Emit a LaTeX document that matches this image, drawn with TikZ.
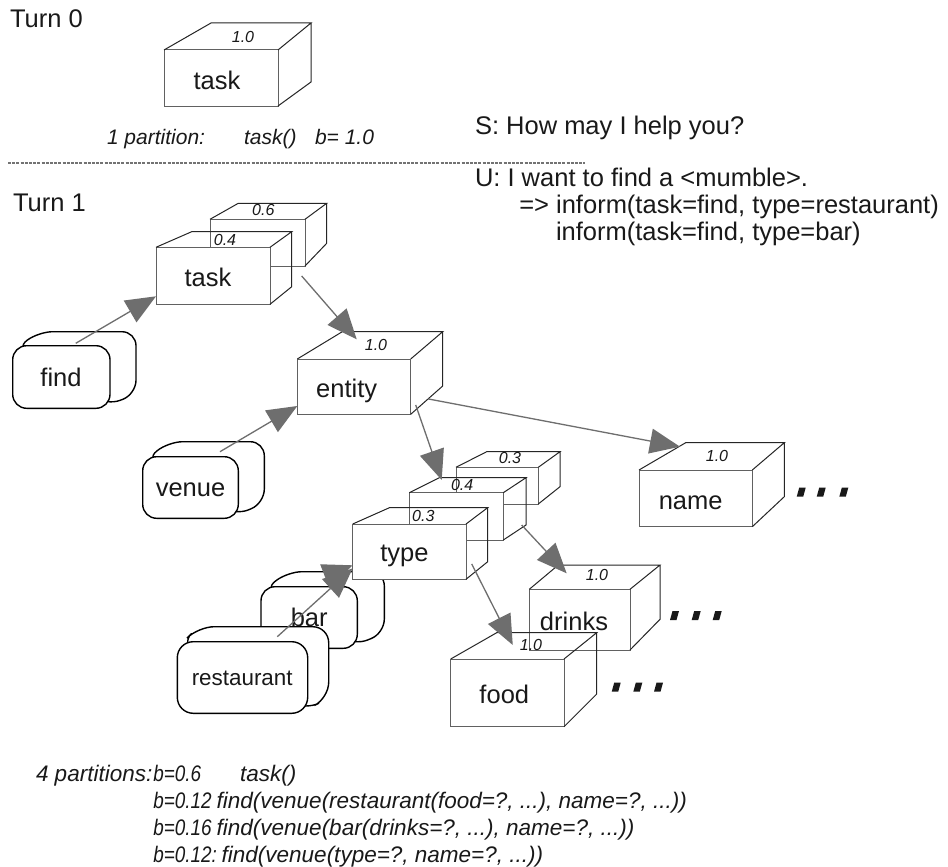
\documentclass[tikz,border=0pt]{standalone}
\usepackage{fontspec}
\setmainfont{Liberation Sans}
\usetikzlibrary{arrows.meta,calc}
\newcommand{\cubefaces}[5]{%
  \draw[topline] (#1.north west) -- ++(#2,#4) -- ($(#1.north east)+(#3,#4)$) -- (#1.north east)
     ($(#1.north east)+(#3,#4)$) -- ($(#1.south east)+(#3,#5)$) -- (#1.south east);
}
\newcommand{\roundbox}[4]{%
  \draw[rline, fill=white, rounded corners=#4] ($(#1.north west)+(3,3)$) -- ($(#1.north west)+(#2,#3)$) -- ($(#1.north east)+(#2,#3)$) -- ($(#1.south east)+(#2,#3)$) -- ($(#1.south east)+(-3,-3)$) -- cycle;
  \draw[rline, fill=white, rounded corners=#4] (#1.north west) rectangle (#1.south east);
}
\newcommand{\dotsq}[2]{\fill[black!90] (#1,#2) -- ++(6.5,0) -- ++(2.5,-9) -- ++(-6.5,0) -- cycle;}
\newcommand{\narrowb}[1]{\scalebox{0.84}[1]{#1}}
\begin{document}
\begin{tikzpicture}[x=1pt,y=-1pt,
  front/.style={draw=black!62, fill=white, line width=1pt, inner sep=0pt, outer sep=0pt, rectangle},
  topline/.style={draw=black!85, line width=1pt, line join=miter},
  rnode/.style={inner sep=0pt, outer sep=0pt, rectangle},
  rline/.style={draw=black, line width=1.4pt},
  lbl/.style={inner sep=0pt, outer sep=0pt, anchor=base, text=black!90, font=\fontsize{25.5}{28}\selectfont},
  prob/.style={inner sep=0pt, outer sep=0pt, anchor=base, text=black!90, font=\fontsize{16}{18}\selectfont\itshape},
  txt/.style={inner sep=0pt, outer sep=0pt, anchor=base west, text=black!90, font=\fontsize{25.5}{28}\selectfont},
  itx/.style={inner sep=0pt, outer sep=0pt, anchor=base west, text=black!90, font=\fontsize{21}{24}\selectfont\itshape},
  btx/.style={inner sep=0pt, outer sep=0pt, anchor=base west, text=black!90, font=\fontsize{22.5}{25}\selectfont\itshape},
  arr/.style={draw=black!57, line width=1.3pt, -{Triangle[length=30pt,width=25pt]}},
  sep/.style={draw=black!55, line width=1.2pt, dash pattern=on 3pt off 1.2pt}
]
\fill[white] (0,0) rectangle (948,867);
\useasboundingbox (0,0) rectangle (948,867);

% ---------- Turn 0 ----------
\node[txt] (turn0) at (10,27.3) {Turn 0};
\node[front, minimum width=114, minimum height=56] (t0) at (221,78) {};
\cubefaces{t0}{47}{33}{-27}{-24}
\node[prob] (t0p) at (243,42.3) {1.0};
\node[lbl] (t0l) at (217,89.3) {task};
\node[itx] (p0a) at (107,144) {1 partition:};
\node[itx] (p0b) at (244,144) {task()};
\node[itx] (p0c) at (315,144) {b= 1.0};

\coordinate (dl1) at (8,163);
\coordinate (dl2) at (585,163);
\draw[sep] (dl1) -- (dl2);

% ---------- dialogue ----------
\node[txt] (s) at (475,134) {S: How may I help you?};
\node[txt] (u1) at (475,186) {U: I want to find a <mumble>.};
\node[txt] (u2) at (519.3,213) {=> inform(task=find, type=restaurant)};
\node[txt] (u3) at (556,240) {inform(task=find, type=bar)};

% ---------- Turn 1 ----------
\node[txt] (turn1) at (13,211.7) {Turn 1};

% rounded boxes
\node[rnode, minimum width=97.3, minimum height=62.6] (fi) at (61.35,377) {};
\roundbox{fi}{26}{-14}{14}
\node[lbl] (fil) at (61,386.7) {find};

\node[rnode, minimum width=95.6, minimum height=61.6] (ve) at (190.5,487.5) {};
\roundbox{ve}{26}{-15}{14}
\node[lbl] (vel) at (190.5,496.7) {venue};

\node[rnode, minimum width=96.3, minimum height=61.6] (ba) at (309.15,617.5) {};
\roundbox{ba}{27}{-15}{14}
\node[lbl] (bal) at (309.2,626.7) {bar};

\node[rnode, minimum width=130.4, minimum height=71.6] (re) at (242.5,677.5) {};
\roundbox{re}{21}{-15}{16}
\node[lbl, font=\fontsize{22.4}{25}\selectfont] (rel) at (242.2,685.7) {restaurant};

% task stack
\node[front, minimum width=95, minimum height=46.7] (t1b) at (257.5,242.65) {};
\cubefaces{t1b}{28.3}{21.7}{-16}{-22.7}
\node[front, minimum width=114, minimum height=57] (t1) at (213,275.8) {};
\cubefaces{t1}{35.7}{21.7}{-15.6}{-17.6}
\node[prob] (t1bp) at (263.3,215.7) {0.6};
\node[prob] (t1p) at (225,245.7) {0.4};
\node[lbl] (t1l) at (208,286.7) {task};

% entity
\node[front, minimum width=113.4, minimum height=55.3] (ent) at (354,386.65) {};
\cubefaces{ent}{45}{32}{-27.3}{-28.3}
\node[prob] (entp) at (376,350.7) {1.0};
\node[lbl] (entl) at (346.7,397.3) {entity};

% type stack
\node[front, minimum width=82.3, minimum height=36.7] (tyc) at (497.15,485.65) {};
\cubefaces{tyc}{30.7}{21.7}{-15.6}{-17.3}
\node[front, minimum width=94, minimum height=47.3] (tyb) at (456.3,516.35) {};
\cubefaces{tyb}{30}{22.7}{-15}{-15}
\node[front, minimum width=113.3, minimum height=55.3] (ty) at (409.35,551.65) {};
\cubefaces{ty}{36.7}{21.7}{-16.3}{-17.6}
\node[prob] (tycp) at (510,463.3) {0.3};
\node[prob] (tybp) at (462.2,490) {0.4};
\node[prob] (typ) at (423.3,521) {0.3};
\node[lbl] (tyl) at (404.5,561.7) {type};

% name
\node[front, minimum width=113.3, minimum height=56.7] (nm) at (695.65,498.35) {};
\cubefaces{nm}{46.7}{32}{-27.3}{-30}
\node[prob] (nmp) at (717,461.7) {1.0};
\node[lbl] (nml) at (690.7,509) {name};

% drinks
\node[front, minimum width=100.7, minimum height=60.7] (dr) at (579.65,619.65) {};
\cubefaces{dr}{29}{30}{-24.3}{-30.7}
\node[prob] (drp) at (597,580.7) {1.0};
\node[lbl] (drl) at (574,630.7) {drinks};

% food
\node[front, minimum width=113.3, minimum height=67.7] (fd) at (507.35,692.85) {};
\cubefaces{fd}{46}{32.7}{-26.3}{-32.7}
\node[prob] (fdp) at (531,650.7) {1.0};
\node[lbl] (fdl) at (504.3,703.3) {food};

% continuation dots
\dotsq{796.7}{496.7}\dotsq{816.7}{496.7}\dotsq{839.3}{496.7}
\dotsq{670}{620}\dotsq{691.7}{620}\dotsq{712.7}{620}
\dotsq{611.7}{691.7}\dotsq{633.3}{691.7}\dotsq{654}{691.7}

% arrows
\draw[arr] ($(fi.north)+(14.4,-2.4)$) -- ($(t1.south west)+(0,-8)$);
\draw[arr] ($(t1.east)+(31.7,0.2)$) -- ($(ent.north)+(2.7,-19.7)$);
\draw[arr] ($(ve.north)+(29.5,-5)$) -- ($(ent.south west)+(0,-8.3)$);
\draw[arr] ($(ent.east)+(5,18.3)$) -- ($(tyb.north west)+(32.4,-12.7)$);
\draw[arr] ($(ent.east)+(17.6,12.3)$) -- ($(nm.north)+(-15.7,-23.3)$);
\draw[arr] ($(re.north)+(34.8,-5)$) -- ($(ty.south west)+(0,-11)$);
\draw[arr] ($(ba.north)+(15.8,-10.7)$) -- ($(ty.south west)+(0,-14)$);
\draw[arr] ($(tyb.east)+(18.4,8.7)$) -- ($(dr.north)+(-13,-16)$);
\draw[arr] ($(ty.east)+(5.7,12.3)$) -- ($(fd.north)+(5.4,-14)$);

% bottom partitions
\node[btx] (p1) at (36,781) {4 partitions:};
\node[btx] (b1) at (153.3,781) {\narrowb{b=0.6}};
\node[btx] (f1) at (240,781) {task()};
\node[btx] (b2) at (153.3,808) {\narrowb{b=0.12}};
\node[btx] (f2) at (216.7,808) {find(venue(restaurant(food=?, ...), name=?, ...))};
\node[btx] (b3) at (153.3,835) {\narrowb{b=0.16}};
\node[btx] (f3) at (216.7,835) {find(venue(bar(drinks=?, ...), name=?, ...))};
\node[btx] (b4) at (153.3,862) {\narrowb{b=0.12:}};
\node[btx] (f4) at (221.7,862) {find(venue(type=?, name=?, ...))};
\end{tikzpicture}
\end{document}
